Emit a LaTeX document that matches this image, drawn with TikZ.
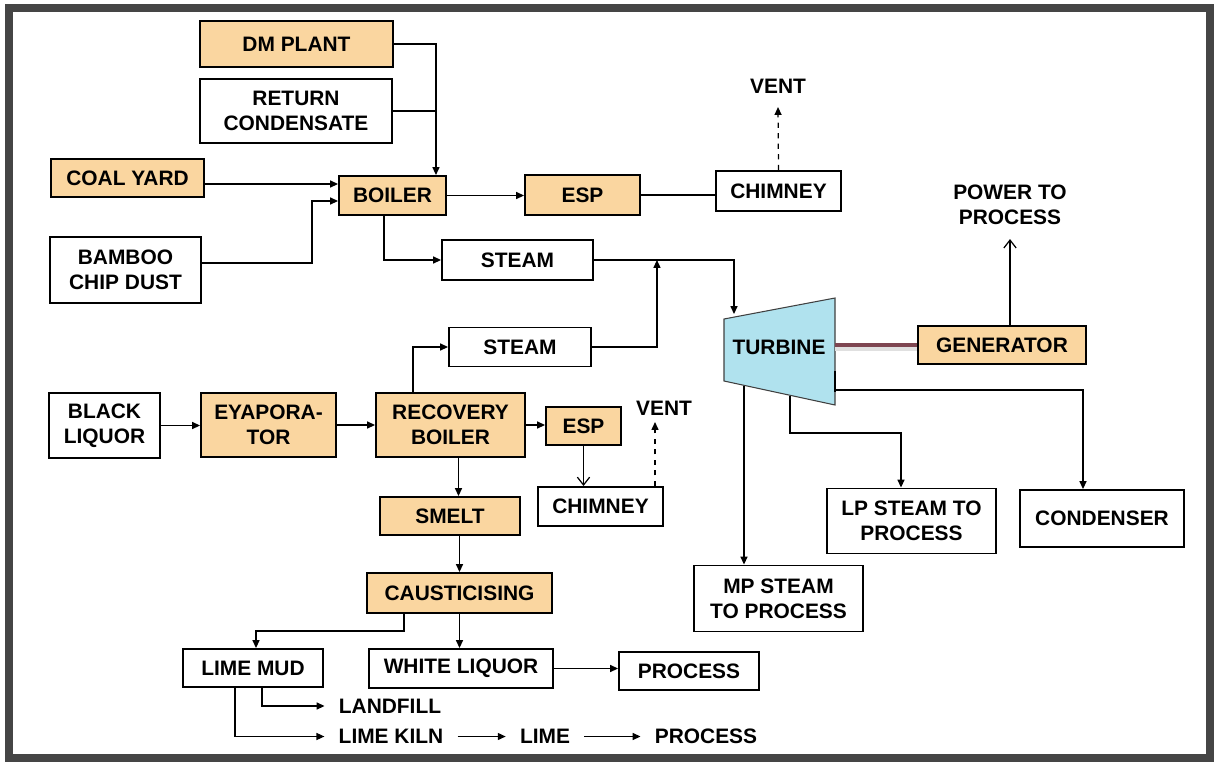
\documentclass[tikz,border=0pt]{standalone}
\usepackage{fontspec}
\setmainfont{Liberation Sans}
\definecolor{peach}{HTML}{FAD6A0}
\definecolor{turbblue}{HTML}{B0E2EE}
\definecolor{shaftred}{HTML}{7E4651}
\definecolor{framegray}{HTML}{454545}
\usepackage{tikz}
\usetikzlibrary{calc, positioning, arrows.meta}
\newcommand{\boxfont}{\fontsize{11.9}{14}\selectfont\bfseries}

\begin{document}
\begin{tikzpicture}[
  box/.style={draw, line width=1.1pt, align=center, inner sep=1pt, font=\boxfont},
  obox/.style={box, fill=peach},
  wbox/.style={box, fill=white},
  txt/.style={font=\boxfont, align=center, inner ysep=0pt, inner xsep=0.28cm},
  flow/.style={line width=0.7pt, -{Triangle[length=4.5pt,width=4pt]}},
  link/.style={line width=0.7pt},
  vent/.style={line width=0.7pt, dashed, -{Triangle[length=4.5pt,width=4pt]}},
  barb/.style={line width=0.7pt, -{Straight Barb[length=4.5pt,width=7pt]}},
  shaft/.style={line width=1.9pt, shaftred},
]
\useasboundingbox (0,0) rectangle (24.3,-15.24);
\draw[line width=4.5pt, framegray] (0.18,-0.16) rectangle (24.2,-15.16);

\node[obox, minimum width=3.86cm, minimum height=0.92cm] (dm) at (5.93,-0.88) {DM PLANT};
\node[wbox, minimum width=3.84cm, minimum height=1.28cm] (rc) at (5.92,-2.22) {RETURN\\CONDENSATE};
\node[obox, minimum width=3.06cm, minimum height=0.76cm] (coal) at (2.55,-3.56) {COAL YARD};
\node[obox, minimum width=2.14cm, minimum height=0.78cm] (boiler) at (7.85,-3.91) {BOILER};
\node[wbox, minimum width=3.02cm, minimum height=1.32cm] (bamboo) at (2.51,-5.40) {BAMBOO\\CHIP DUST};
\node[obox, minimum width=2.30cm, minimum height=0.80cm] (esp1) at (11.65,-3.90) {ESP};
\node[wbox, minimum width=2.50cm, minimum height=0.80cm] (chim1) at (15.57,-3.82) {CHIMNEY};
\node[txt] (vent1) at (15.56,-1.72) {VENT};
\node[wbox, minimum width=3.02cm, minimum height=0.80cm] (steam1) at (10.35,-5.20) {STEAM};

\coordinate (tnw) at (14.48,-6.38);
\coordinate (tne) at (16.70,-5.96);
\coordinate (tse) at (16.70,-8.10);
\coordinate (tsw) at (14.48,-7.62);
\filldraw[fill=turbblue, draw=black!75, line width=0.6pt] (tnw) -- (tne) -- (tse) -- (tsw) -- cycle;
\node[txt] (turbine) at (15.58,-6.94) {TURBINE};
\coordinate (tin) at (14.68,-6.28);
\coordinate (tmp) at (14.88,-7.71);
\coordinate (tlp) at (15.80,-7.91);
\coordinate (tcd) at (16.70,-7.80);
\draw[line width=1.6pt] (16.70,-7.42) -- (16.70,-7.84);

\node[obox, minimum width=3.36cm, minimum height=0.76cm] (gen) at (20.04,-6.90) {GENERATOR};
\node[txt] (power) at (20.20,-4.10) {POWER TO\\PROCESS};
\node[wbox, minimum width=2.84cm, minimum height=0.78cm] (steam2) at (10.40,-6.94) {STEAM};

\node[wbox, minimum width=2.22cm, minimum height=1.30cm] (bl) at (2.09,-8.51) {BLACK\\LIQUOR};
\node[obox, minimum width=2.70cm, minimum height=1.28cm] (evap) at (5.37,-8.50) {EYAPORA-\\TOR};
\node[obox, minimum width=2.98cm, minimum height=1.28cm] (rb) at (9.01,-8.50) {RECOVERY\\BOILER};
\node[obox, minimum width=1.50cm, minimum height=0.76cm] (esp2) at (11.67,-8.52) {ESP};
\node[txt] (vent2) at (13.28,-8.16) {VENT};
\node[wbox, minimum width=2.50cm, minimum height=0.78cm] (chim2) at (12.01,-10.13) {CHIMNEY};
\node[obox, minimum width=2.80cm, minimum height=0.76cm] (smelt) at (9.00,-10.32) {SMELT};
\node[obox, minimum width=3.70cm, minimum height=0.80cm] (caust) at (9.19,-11.86) {CAUSTICISING};
\node[wbox, minimum width=2.80cm, minimum height=0.76cm] (lmud) at (5.06,-13.36) {LIME MUD};
\node[wbox, minimum width=3.68cm, minimum height=0.78cm] (wl) at (9.22,-13.37) {WHITE LIQUOR};
\node[wbox, minimum width=2.80cm, minimum height=0.76cm] (proc1) at (13.78,-13.42) {PROCESS};
\node[txt] (landfill) at (7.80,-14.12) {LANDFILL};
\node[txt] (kiln) at (7.82,-14.73) {LIME KILN};
\node[txt] (lime) at (10.90,-14.73) {LIME};
\node[txt] (proc2) at (14.12,-14.73) {PROCESS};

\node[wbox, minimum width=3.38cm, minimum height=1.32cm] (mp) at (15.57,-11.97) {MP STEAM\\TO PROCESS};
\node[wbox, minimum width=3.38cm, minimum height=1.30cm] (lp) at (18.23,-10.42) {LP STEAM TO\\PROCESS};
\node[wbox, minimum width=3.28cm, minimum height=1.14cm] (cond) at (22.04,-10.37) {CONDENSER};

\coordinate (bin) at ([xshift=-0.22cm]boiler.north east);
\draw[flow] (dm.east) -| (bin);
\draw[link] (rc.east) -- (rc.east -| bin);
\draw[flow] ([yshift=-0.12cm]coal.east) -- ([yshift=-0.12cm]coal.east -| boiler.west);
\draw[flow] ([yshift=0.14cm]bamboo.east) -- ++(2.2,0) |- ([yshift=-0.11cm]boiler.west);
\draw[flow] (boiler.east) -- (boiler.east -| esp1.west);
\draw[link] (esp1.east) -- (esp1.east -| chim1.west);
\draw[vent] (chim1.north) -- ([yshift=-0.27cm]vent1.south);
\draw[flow] ([xshift=-0.17cm]boiler.south) |- (steam1.west);
\draw[flow] (steam1.east) -| (tin);
\draw[flow] (steam2.east) -| ([xshift=1.26cm]steam1.east);
\draw[flow] ([xshift=-0.75cm]rb.north) |- (steam2.west);

\draw[line width=3pt, black!12] ([yshift=-0.07cm]gen.west -| tne) -- ([yshift=-0.07cm]gen.west);
\draw[shaft] (gen.west -| tne) -- (gen.west);
\draw[barb] (gen.north -| power.south) -- ([yshift=-0.28cm]power.south);
\draw[flow] (tmp) -- (tmp |- mp.north);
\draw[flow] (tlp) -- ++(0,-0.75) -| ([xshift=-0.21cm]lp.north);
\draw[flow] (tcd) -| ([xshift=-0.38cm]cond.north);

\draw[flow] (bl.east) -- (bl.east -| evap.west);
\draw[flow] (evap.east) -- (evap.east -| rb.west);
\draw[flow] (rb.east) -- (rb.east -| esp2.west);
\draw[barb] (esp2.south) -- (esp2.south |- chim2.north);
\draw[vent] ([xshift=1.09cm]chim2.north) -- ++(0,1.28);
\draw[flow] ([xshift=0.16cm]rb.south) -- ([xshift=0.16cm]rb.south |- smelt.north);
\draw[flow] (smelt.south -| caust.north) -- (caust.north);
\draw[flow] (caust.south) -- (caust.south |- wl.north);
\draw[flow] ([xshift=-1.11cm]caust.south) -- ++(0,-0.34) -| ([xshift=0.06cm]lmud.north);
\draw[flow] (wl.east) -- (wl.east -| proc1.west);
\draw[flow] ([xshift=0.18cm]lmud.south) |- (landfill.west);
\draw[flow] ([xshift=-0.36cm]lmud.south) |- (kiln.west);
\draw[flow] (kiln.east) -- (lime.west);
\draw[flow] (lime.east) -- (proc2.west);
\end{tikzpicture}
\end{document}
